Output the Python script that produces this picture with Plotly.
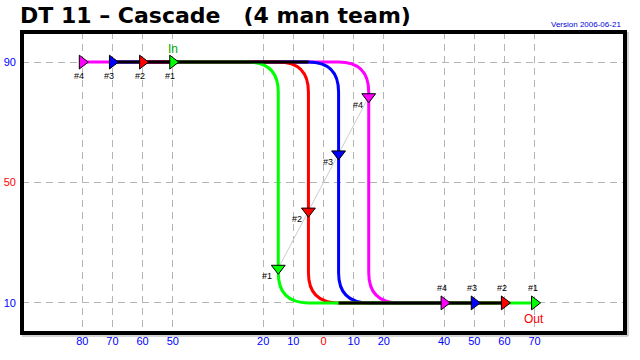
import plotly.graph_objects as go

# ---------------- data ----------------
runners = ["#1", "#2", "#3", "#4"]
runner_colors = ["#00ff00", "#ff0000", "#0000ff", "#ff00ff"]
start_x = [-50, -60, -70, -80]      # entry positions on the upper level
turn_x = [-15, -5, 5, 15]           # where each man drops down
end_x = [70, 60, 50, 40]            # exit positions on the lower level
mid_y = [21.5, 40.5, 59.5, 78.5]    # marker on each descent
top_level = 90
bottom_level = 10
center_level = 50
center_x = 0

x_tick_vals = [-80, -70, -60, -50, -20, -10, 0, 10, 20, 40, 50, 60, 70]
x_tick_text = ["80", "70", "60", "50", "20", "10", "0", "10", "20", "40", "50", "60", "70"]
y_tick_vals = [10, 50, 90]
y_tick_text = ["10", "50", "90"]

title_text = "DT 11 \u2013 Cascade\u00a0\u00a0\u00a0(4 man team)"
version_text = "Version 2006-06-21"

# ---------------- style ----------------
corner = 10          # rounding of the path corners (axis units)
LINE_W = 3
GRID = "#b4b4b4"
DASH = "7px,5px"
BLUE_TXT = "#0000ff"
FONT = "Liberation Sans, Arial, sans-serif"
PLOT_W, PLOT_H = 603, 301


def colored(labels, vals, special):
    out = []
    for t, v in zip(labels, vals):
        out.append(f'<span style="color:red">{t}</span>' if v == special else t)
    return out


fig = go.Figure()
shapes = []

# red centre reference lines
shapes.append(dict(type="line", xref="x", yref="paper", x0=center_x, x1=center_x, y0=1, y1=0,
                   line=dict(color="red", width=1, dash=DASH), layer="between"))
shapes.append(dict(type="line", xref="paper", yref="y", x0=0, x1=1, y0=center_level, y1=center_level,
                   line=dict(color="red", width=1, dash=DASH), layer="between"))

# each man's path with rounded corners
for i in reversed(range(len(runners))):
    s, t, e, c = start_x[i], turn_x[i], end_x[i], runner_colors[i]
    T, B, r = top_level, bottom_level, corner
    path = (f"M {s},{T} L {t - r},{T} Q {t},{T} {t},{T - r} "
            f"L {t},{B + r} Q {t},{B} {t + r},{B} L {e},{B}")
    shapes.append(dict(type="path", xref="x", yref="y", path=path,
                       line=dict(color=c, width=LINE_W), fillcolor="rgba(0,0,0,0)", layer="between"))

# shared stretches (two or more men together) drawn in black
s_sorted = sorted(start_x)
dep_sorted = sorted(t - corner for t in turn_x)
arr_sorted = sorted(t + corner for t in turn_x)
e_sorted = sorted(end_x)
shapes.append(dict(type="line", xref="x", yref="y", x0=s_sorted[1], x1=dep_sorted[-2],
                   y0=top_level, y1=top_level, line=dict(color="black", width=LINE_W), layer="between"))
shapes.append(dict(type="line", xref="x", yref="y", x0=arr_sorted[1], x1=e_sorted[-2],
                   y0=bottom_level, y1=bottom_level, line=dict(color="black", width=LINE_W), layer="between"))

# frame with a faint shadow
off_x, off_y = 3 / PLOT_W, 3 / PLOT_H
shapes.append(dict(type="line", xref="paper", yref="paper", x0=0, x1=1 + off_x, y0=-off_y, y1=-off_y,
                   line=dict(color="#a8a8a8", width=1), layer="above"))
shapes.append(dict(type="line", xref="paper", yref="paper", x0=1 + off_x, x1=1 + off_x, y0=1, y1=-off_y,
                   line=dict(color="#a8a8a8", width=1), layer="above"))
shapes.append(dict(type="rect", xref="paper", yref="paper", x0=0, x1=1, y0=0, y1=1,
                   line=dict(color="black", width=4), layer="above"))

# thin grey link through the descent markers
fig.add_trace(go.Scatter(x=turn_x, y=mid_y, mode="lines",
                         line=dict(color="#cccccc", width=1), hoverinfo="skip"))

mk_line = dict(color="black", width=1)
fig.add_trace(go.Scatter(x=start_x, y=[top_level] * len(start_x), mode="markers",
                         marker=dict(symbol="triangle-right", size=12, color=runner_colors, line=mk_line)))
fig.add_trace(go.Scatter(x=end_x, y=[bottom_level] * len(end_x), mode="markers",
                         marker=dict(symbol="triangle-right", size=12, color=runner_colors, line=mk_line)))
fig.add_trace(go.Scatter(x=turn_x, y=mid_y, mode="markers",
                         marker=dict(symbol="triangle-down", size=12, color=runner_colors, line=mk_line)))

ann = []
lab_font = dict(family=FONT, size=9, color="black")
for i, r in enumerate(runners):
    ann.append(dict(x=start_x[i], y=top_level, text=r, showarrow=False, font=lab_font, xshift=-3, yshift=-14))
    ann.append(dict(x=end_x[i], y=bottom_level, text=r, showarrow=False, font=lab_font, xshift=-2, yshift=15))
    ann.append(dict(x=turn_x[i], y=mid_y[i], text=r, showarrow=False, font=lab_font, xshift=-11, yshift=-8))

ann.append(dict(x=start_x[0], y=top_level, text="In", showarrow=False,
                font=dict(family=FONT, size=12, color="#00aa00"), yshift=13))
ann.append(dict(x=end_x[0], y=bottom_level, text="Out", showarrow=False,
                font=dict(family=FONT, size=12, color="red"), xshift=-1, yshift=-16))
ann.append(dict(xref="paper", yref="paper", x=1, y=1 + 7.5 / PLOT_H, xanchor="right", yanchor="middle",
                text=version_text, showarrow=False, xshift=-2,
                font=dict(family=FONT, size=8, color="#0000dd")))

fig.update_layout(
    width=640, height=360,
    margin=dict(l=22, r=15, t=32, b=27, autoexpand=False),
    paper_bgcolor="white", plot_bgcolor="white",
    showlegend=False,
    shapes=shapes,
    annotations=ann,
    title=dict(text=title_text, x=20 / 640, xanchor="left", xref="container",
               y=1 - 15.5 / 360, yanchor="middle", yref="container",
               font=dict(family="DejaVu Sans", size=22, color="black", weight="bold")),
    xaxis=dict(range=[-100, 100], tickmode="array", tickvals=x_tick_vals,
               ticktext=colored(x_tick_text, x_tick_vals, center_x),
               showgrid=True, gridcolor=GRID, griddash=DASH, gridwidth=1, automargin=False,
               zeroline=False, showline=False, ticks="",
               tickfont=dict(family=FONT, size=11, color=BLUE_TXT), fixedrange=True),
    yaxis=dict(range=[0, 100], tickmode="array", tickvals=y_tick_vals,
               ticktext=colored(y_tick_text, y_tick_vals, center_level),
               showgrid=True, gridcolor=GRID, griddash=DASH, gridwidth=1, automargin=False,
               zeroline=False, showline=False, ticks="", ticklabelstandoff=5,
               tickfont=dict(family=FONT, size=11, color=BLUE_TXT), fixedrange=True),
)

fig.write_html("out.html", config={"displayModeBar": False},
               post_script="document.body.style.margin='0px';")
